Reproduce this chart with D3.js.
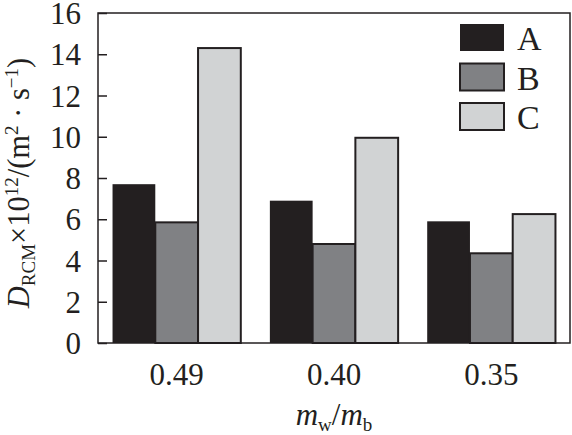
<!DOCTYPE html>
<html>
<head>
<meta charset="utf-8">
<script src="https://cdn.jsdelivr.net/npm/d3@7"></script>
<style>
  body { margin: 0; background: #fff; }
  text { font-family: "Liberation Serif", "Times New Roman", serif; fill: #231f20; }
</style>
</head>
<body>
<svg id="chart" width="572" height="435"></svg>
<script>
// data
const groups = ['0.49', '0.40', '0.35'];
const series = ['A', 'B', 'C'];
const values_A = [7.7, 6.9, 5.9];
const values_B = [5.85, 4.8, 4.35];
const values_C = [14.3, 9.95, 6.25];
const y_ticks = [0, 2, 4, 6, 8, 10, 12, 14, 16];
const colors = ['#231f20', '#808184', '#d1d3d4'];

const margin = {left: 98, right: 2, top: 13, bottom: 92};
const width = 572, height = 435;
const plot_width = width - margin.left - margin.right;
const plot_height = height - margin.top - margin.bottom;

const svg = d3.select('#chart');
const grp = svg.append('g')
    .attr('transform', 'translate(' + margin.left + ',' + margin.top + ')');

const x0 = d3.scaleBand()
    .domain(groups)
    .range([0, plot_width])
    .padding(0);

const x1 = d3.scaleBand()
    .domain(series)
    .range([0, x0.bandwidth()])
    .paddingInner(0)
    .paddingOuter(0.34);

const y = d3.scaleLinear()
    .domain([0, 16])
    .range([plot_height, 0]);

const rows = groups.map((g, i) => ({
    group: g,
    vals: [values_A[i], values_B[i], values_C[i]]
}));

// bars
const bar_grp = grp.selectAll('.group')
    .data(rows)
    .enter()
  .append('g')
    .attr('class', 'group')
    .attr('transform', d => 'translate(' + x0(d.group) + ',0)');

bar_grp.selectAll('rect')
    .data(d => d.vals.map((v, j) => ({s: series[j], v: v, j: j})))
    .enter()
  .append('rect')
    .attr('x', d => x1(d.s))
    .attr('width', x1.bandwidth())
    .attr('y', d => y(d.v))
    .attr('height', d => plot_height - y(d.v))
    .attr('fill', d => colors[d.j])
    .attr('stroke', d => d.j == 0 ? 'none' : '#231f20')
    .attr('stroke-width', 2);

// frame
grp.append('rect')
    .attr('x', 0)
    .attr('y', 0)
    .attr('width', plot_width)
    .attr('height', plot_height)
    .attr('fill', 'none')
    .attr('stroke', '#231f20')
    .attr('stroke-width', 1.5);

// y axis, ticks pointing inward
const y_axis = grp.append('g')
    .call(d3.axisLeft(y).tickValues(y_ticks).tickSizeInner(-9).tickSizeOuter(0).tickPadding(17));
y_axis.select('.domain').remove();
y_axis.selectAll('line').attr('stroke', '#231f20').attr('stroke-width', 1.5);
y_axis.selectAll('text')
    .style('font-size', '31px')
    .style('font-family', '"Liberation Serif", serif')
    .attr('fill', '#231f20')
    .attr('dy', '0.34em');

// x axis, no tick marks
const x_axis = grp.append('g')
    .attr('transform', 'translate(0,' + plot_height + ')')
    .call(d3.axisBottom(x0).tickSize(0).tickPadding(20));
x_axis.select('.domain').remove();
x_axis.selectAll('text')
    .style('font-size', '31px')
    .style('font-family', '"Liberation Serif", serif')
    .attr('fill', '#231f20');

// x label
const xlab = svg.append('text')
    .attr('x', margin.left + plot_width / 2)
    .attr('y', 425)
    .attr('text-anchor', 'middle')
    .style('font-size', '31px');
xlab.append('tspan').style('font-style', 'italic').text('m');
xlab.append('tspan').attr('dy', 6).style('font-size', '19px').text('w');
xlab.append('tspan').attr('dy', -6).text('/');
xlab.append('tspan').style('font-style', 'italic').text('m');
xlab.append('tspan').attr('dy', 6).style('font-size', '19px').text('b');

// y label
const ylab = svg.append('text')
    .attr('transform', 'translate(29,183) rotate(-90)')
    .attr('text-anchor', 'middle')
    .style('font-size', '30.5px');
ylab.append('tspan').style('font-style', 'italic').text('D');
ylab.append('tspan').attr('dy', 6).style('font-size', '19px').text('RCM');
ylab.append('tspan').attr('dy', -6).text('×10');
ylab.append('tspan').attr('dy', -11).style('font-size', '19px').text('12');
ylab.append('tspan').attr('dy', 11).text('/(m');
ylab.append('tspan').attr('dy', -11).style('font-size', '19px').text('2');
ylab.append('tspan').attr('dy', 11).text(' · s');
ylab.append('tspan').attr('dy', -11).style('font-size', '19px').text('−1');
ylab.append('tspan').attr('dy', 11).text(')');

// legend
const legend = svg.append('g')
    .attr('transform', 'translate(460,24)');
const leg_items = legend.selectAll('g')
    .data(series)
    .enter()
  .append('g')
    .attr('transform', (d, i) => 'translate(0,' + i * 39.5 + ')');
leg_items.append('rect')
    .attr('width', 44)
    .attr('height', 27)
    .attr('fill', (d, i) => colors[i])
    .attr('stroke', (d, i) => i == 0 ? 'none' : '#231f20')
    .attr('stroke-width', 2);
leg_items.append('text')
    .attr('x', 57)
    .attr('y', 26)
    .style('font-size', '34px')
    .text(d => d);
</script>
</body>
</html>
